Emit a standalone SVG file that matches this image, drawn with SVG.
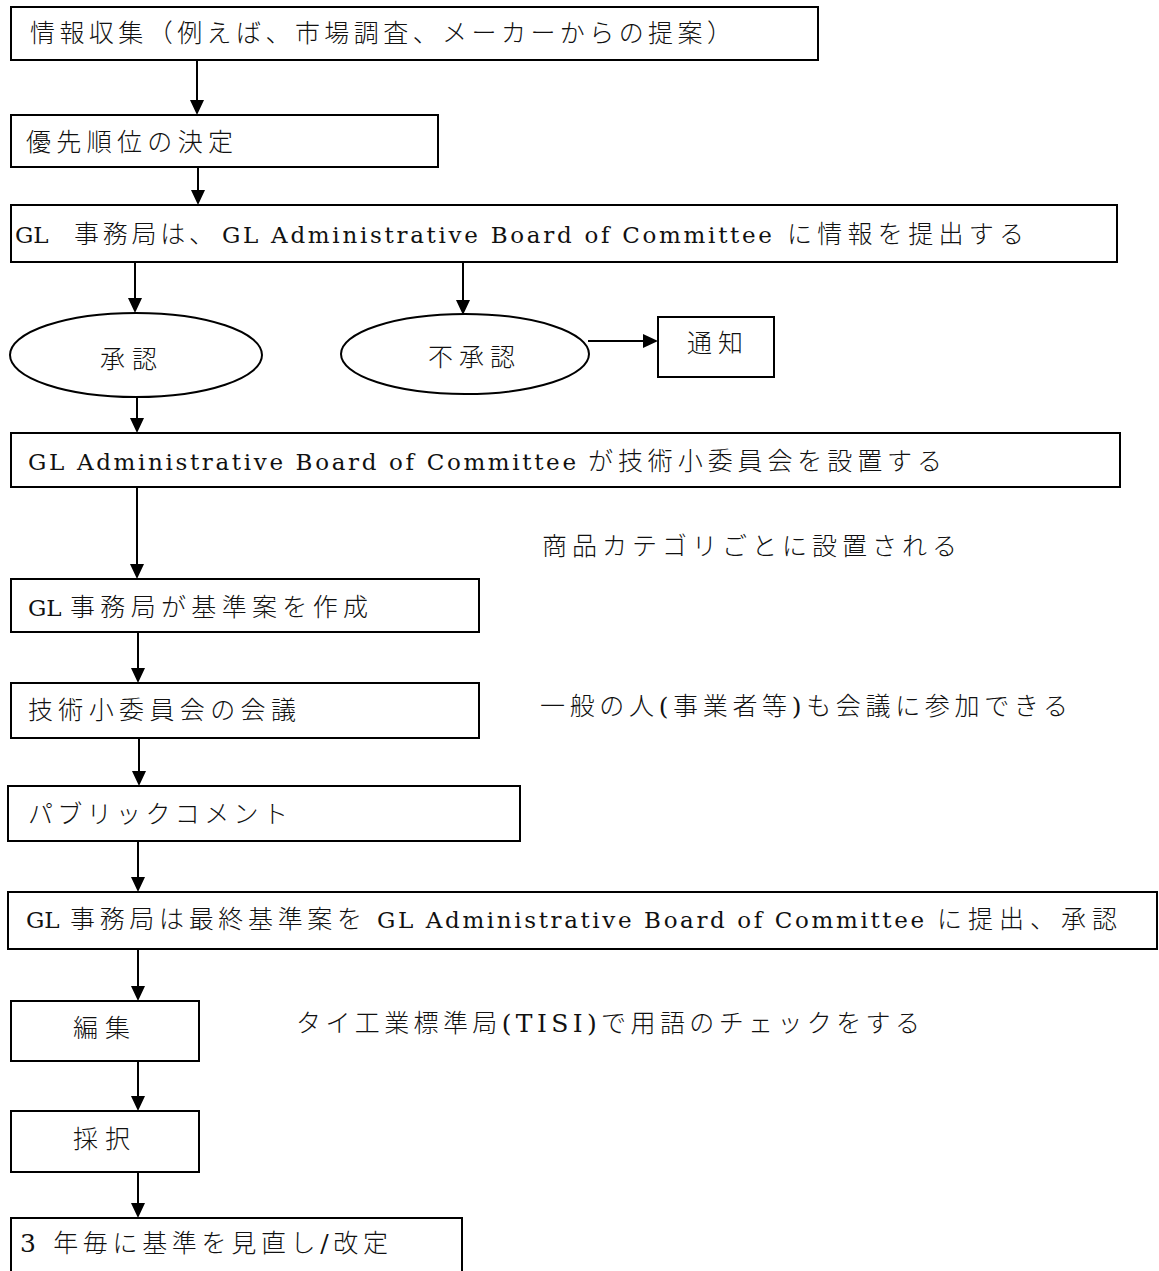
<svg xmlns="http://www.w3.org/2000/svg" width="1159" height="1271" viewBox="0 0 1159 1271">
<defs>
<style>
.box{fill:#fff;stroke:#000;stroke-width:2}
.ell{fill:#fff;stroke:#000;stroke-width:2}
.t{font-family:"DejaVu Serif","Noto Sans CJK JP",serif;font-size:25px;font-weight:300;fill:#111}
.l{font-family:"DejaVu Serif",serif;font-size:23px;font-weight:normal;fill:#111}
.c{stroke:#000;stroke-width:2;fill:none;marker-end:url(#ah)}
</style>
<marker id="ah" markerUnits="userSpaceOnUse" markerWidth="16" markerHeight="14" refX="3" refY="7" orient="auto">
<path d="M0,0 L15,7 L0,14 z" fill="#000"/>
</marker>
</defs>
<rect width="1159" height="1271" fill="#fff"/>
<g id="connectors">
<path class="c" d="M197,60 V103"/>
<path class="c" d="M198,167 V193"/>
<path class="c" d="M135,262 V301"/>
<path class="c" d="M463,262 V303"/>
<path class="c" d="M588,341 H646"/>
<path class="c" d="M137,391 V421"/>
<path class="c" d="M137,487 V567"/>
<path class="c" d="M138,632 V671"/>
<path class="c" d="M139,738 V774"/>
<path class="c" d="M138,841 V880"/>
<path class="c" d="M138,949 V989"/>
<path class="c" d="M138,1061 V1099"/>
<path class="c" d="M138,1172 V1206"/>
</g>
<g id="n1"><rect class="box" x="11" y="7" width="807" height="53"/><text class="t" x="30" y="42" textLength="702" lengthAdjust="spacing">情報収集（例えば、市場調査、メーカーからの提案）</text></g>
<g id="n2"><rect class="box" x="11" y="115" width="427" height="52"/><text class="t" x="26" y="151" textLength="207" lengthAdjust="spacing">優先順位の決定</text></g>
<g id="n3"><rect class="box" x="11" y="205" width="1106" height="57"/>
<text class="l" x="15" y="243">GL</text>
<text class="t" x="74" y="243" textLength="140" lengthAdjust="spacing">事務局は、</text>
<text class="l" x="222" y="243" textLength="550" lengthAdjust="spacing">GL Administrative Board of Committee</text>
<text class="t" x="787" y="243" textLength="237" lengthAdjust="spacing">に情報を提出する</text></g>
<g id="n4"><ellipse class="ell" cx="136" cy="355" rx="126" ry="42"/><text class="t" x="100" y="368" textLength="57" lengthAdjust="spacing">承認</text></g>
<g id="n5"><ellipse class="ell" cx="465" cy="354" rx="124" ry="40"/><text class="t" x="428" y="366" textLength="87" lengthAdjust="spacing">不承認</text></g>
<g id="n6"><rect class="box" x="658" y="317" width="116" height="60"/><text class="t" x="687" y="352" textLength="56" lengthAdjust="spacing">通知</text></g>
<g id="n7"><rect class="box" x="11" y="433" width="1109" height="54"/>
<text class="l" x="28" y="470" textLength="548" lengthAdjust="spacing">GL Administrative Board of Committee</text>
<text class="t" x="588" y="470" textLength="354" lengthAdjust="spacing">が技術小委員会を設置する</text></g>
<g id="note1"><text class="t" x="542" y="555" textLength="415" lengthAdjust="spacing">商品カテゴリごとに設置される</text></g>
<g id="n8"><rect class="box" x="11" y="579" width="468" height="53"/>
<text class="l" x="28" y="616">GL</text>
<text class="t" x="70" y="616" textLength="298" lengthAdjust="spacing">事務局が基準案を作成</text></g>
<g id="n9"><rect class="box" x="11" y="683" width="468" height="55"/><text class="t" x="28" y="719" textLength="268" lengthAdjust="spacing">技術小委員会の会議</text></g>
<g id="note2"><text class="t" x="540" y="715" textLength="528" lengthAdjust="spacing">一般の人(事業者等)も会議に参加できる</text></g>
<g id="n10"><rect class="box" x="8" y="786" width="512" height="55"/><text class="t" x="28" y="823" textLength="260" lengthAdjust="spacing">パブリックコメント</text></g>
<g id="n11"><rect class="box" x="8" y="892" width="1149" height="57"/>
<text class="l" x="26" y="928">GL</text>
<text class="t" x="70" y="928" textLength="292" lengthAdjust="spacing">事務局は最終基準案を</text>
<text class="l" x="377" y="928" textLength="547" lengthAdjust="spacing">GL Administrative Board of Committee</text>
<text class="t" x="937" y="928" textLength="180" lengthAdjust="spacing">に提出、承認</text></g>
<g id="n12"><rect class="box" x="11" y="1001" width="188" height="60"/><text class="t" x="73" y="1037" textLength="57" lengthAdjust="spacing">編集</text></g>
<g id="note3"><text class="t" x="296" y="1032" textLength="624" lengthAdjust="spacing">タイ工業標準局(TISI)で用語のチェックをする</text></g>
<g id="n13"><rect class="box" x="11" y="1111" width="188" height="61"/><text class="t" x="73" y="1148" textLength="57" lengthAdjust="spacing">採択</text></g>
<g id="n14"><rect class="box" x="11" y="1218" width="451" height="70"/><text class="t" x="20" y="1252" textLength="368" lengthAdjust="spacing">3 年毎に基準を見直し/改定</text></g>
</svg>
